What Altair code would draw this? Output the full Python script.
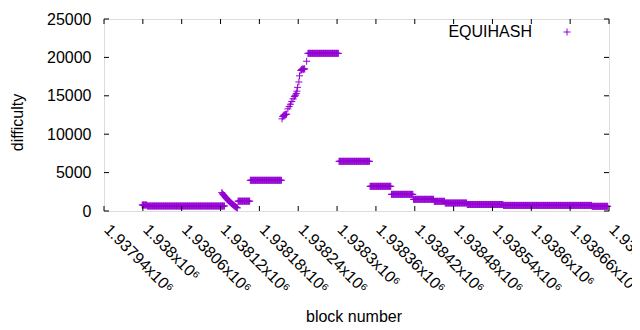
import altair as alt
import pandas as pd

# ---- data ----
# flat stretches: first block, last block, difficulty
seg_start = [1937999, 1938007, 1938147, 1938166, 1938255, 1938303, 1938351,
             1938384, 1938418, 1938450, 1938467, 1938501, 1938557, 1938694]
seg_end = [1938006, 1938126, 1938165, 1938214, 1938302, 1938350, 1938383,
           1938417, 1938449, 1938466, 1938500, 1938556, 1938693, 1938718]
seg_value = [780, 650, 1280, 4000, 20530, 6470, 3215,
             2170, 1520, 1260, 1040, 850, 730, 610]

# individual blocks on the fall and the rise
fall_blocks = list(range(1938122, 1938147))
fall_values = [2400, 2250, 2150, 2050, 1950, 1850, 1750, 1650, 1560, 1470,
               1380, 1300, 1220, 1140, 1060, 980, 900, 830, 760, 690,
               620, 560, 500, 450, 400]
rise_blocks = [1938215, 1938216, 1938217, 1938218, 1938219, 1938220, 1938221,
               1938222, 1938224, 1938226, 1938228, 1938230, 1938232, 1938234,
               1938235, 1938236, 1938237, 1938238, 1938239, 1938241, 1938242,
               1938244, 1938245, 1938246, 1938247, 1938248, 1938249, 1938250,
               1938253]
rise_values = [12000, 12300, 12400, 12500, 12500, 12550, 12600,
               12600, 13300, 13600, 13900, 14250, 14600, 14900,
               15000, 15100, 15300, 15600, 16100, 16800, 17600,
               18300, 18400, 18450, 18500, 18450, 18500, 18500,
               19500]

x_ticks = [1937940, 1938000, 1938060, 1938120, 1938180, 1938240, 1938300,
           1938360, 1938420, 1938480, 1938540, 1938600, 1938660, 1938720]
x_labels = ["1.93794x10⁶", "1.938x10⁶", "1.93806x10⁶", "1.93812x10⁶",
            "1.93818x10⁶", "1.93824x10⁶", "1.9383x10⁶", "1.93836x10⁶",
            "1.93842x10⁶", "1.93848x10⁶", "1.93854x10⁶", "1.9386x10⁶",
            "1.93866x10⁶", "1.93872x10⁶"]
y_ticks = [0, 5000, 10000, 15000, 20000, 25000]
series_name = "EQUIHASH"

# ---- build table ----
blocks, values = [], []
for s, e, v in zip(seg_start, seg_end, seg_value):
    for b in range(s, e + 1):
        blocks.append(b)
        values.append(v)
blocks += fall_blocks + rise_blocks
values += fall_values + rise_values
df = pd.DataFrame({"block": blocks, "difficulty": values})

xt = pd.DataFrame({"tick": x_ticks})
yt = pd.DataFrame({"tick": y_ticks})

W, H = 505, 192
FONT = "Liberation Sans"
FS = 16
COLOR = "#9400d3"
PLUS = "M-1,0H1M0,-1V1"

label_expr = " : ".join(
    f"datum.value == {v} ? '{l}'" for v, l in zip(x_ticks, x_labels)
) + " : ''"

xscale = alt.Scale(domain=[x_ticks[0], x_ticks[-1]], nice=False, zero=False)
yscale = alt.Scale(domain=[0, 25000], nice=False)

xaxis = alt.Axis(values=x_ticks, labelExpr=label_expr, labelAngle=45,
                 labelAlign="left", labelBaseline="top", labelPadding=10,
                 labelOffset=8,
                 ticks=False, tickSize=0, domain=False, grid=False,
                 labelFont=FONT, labelFontSize=FS, labelColor="black",
                 labelOverlap=False, labelBound=False, labelFlush=False,
                 title="block number", titleFont=FONT, titleFontSize=FS,
                 titleFontWeight="normal", titleColor="black",
                 titleBaseline="alphabetic", titleY=110, titleX=W / 2 - 3)
yaxis = alt.Axis(values=y_ticks, format="d", ticks=False, tickSize=0,
                 domain=False, grid=False, labelFont=FONT, labelFontSize=FS,
                 labelColor="black", labelPadding=13,
                 title="difficulty", titleFont=FONT, titleFontSize=FS,
                 titleFontWeight="normal", titleColor="black",
                 titleAngle=-90, titleBaseline="alphabetic",
                 titleX=-82, titleY=103)

points = alt.Chart(df).mark_point(
    shape=PLUS, filled=False, size=49, strokeWidth=1, color=COLOR, opacity=1
).encode(
    x=alt.X("block:Q", scale=xscale, axis=xaxis),
    y=alt.Y("difficulty:Q", scale=yscale, axis=yaxis),
)

xr = dict(scale=xscale, axis=xaxis, title="block number")
yr = dict(scale=yscale, axis=yaxis, title="difficulty")

tick_bottom = alt.Chart(xt).mark_rule(color="black", strokeWidth=1).encode(
    x=alt.X("tick:Q", **xr), y=alt.value(H), y2=alt.value(H - 5))
tick_top = alt.Chart(xt).mark_rule(color="black", strokeWidth=1).encode(
    x=alt.X("tick:Q", **xr), y=alt.value(0), y2=alt.value(5))
tick_left = alt.Chart(yt).mark_rule(color="black", strokeWidth=1).encode(
    y=alt.Y("tick:Q", **yr), x=alt.value(0), x2=alt.value(5))
tick_right = alt.Chart(yt).mark_rule(color="black", strokeWidth=1).encode(
    y=alt.Y("tick:Q", **yr), x=alt.value(W), x2=alt.value(W - 5))

leg = pd.DataFrame({"name": [series_name]})
leg_text = alt.Chart(leg).mark_text(
    align="right", baseline="middle", font=FONT, fontSize=FS, color="black"
).encode(text="name:N", x=alt.value(428), y=alt.value(13))
leg_pt = alt.Chart(leg).mark_point(
    shape=PLUS, filled=False, size=49, strokeWidth=1, color=COLOR, opacity=1
).encode(x=alt.value(463), y=alt.value(13))

chart = alt.layer(
    points, tick_bottom, tick_top, tick_left, tick_right, leg_text, leg_pt
).properties(
    width=W, height=H,
    autosize=alt.AutoSizeParams(type="none"),
    padding={"left": 96, "top": 11, "right": 23, "bottom": 112},
).configure_view(stroke="black", strokeWidth=1).configure(background="white")

chart.save("out.html", embed_options={"renderer": "svg", "actions": False})
